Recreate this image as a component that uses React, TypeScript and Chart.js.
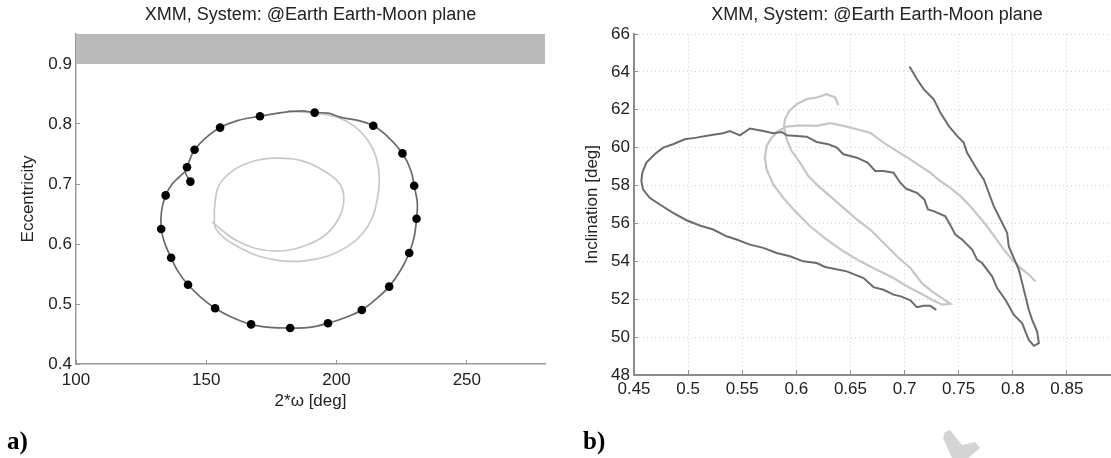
import { useEffect, useRef } from "react";
import { Chart, registerables } from "chart.js";

Chart.register(...registerables);

type Pt = [number, number];

const TITLE = "XMM, System: @Earth Earth-Moon plane";
const FONT = "'Liberation Sans', Arial, sans-serif";

// ---- (a) eccentricity vs 2*omega ----
const omegaTicks = [100, 150, 200, 250];
const eccTicks = [0.4, 0.5, 0.6, 0.7, 0.8, 0.9];
const omegaRange: Pt = [100, 280];
const eccRange: Pt = [0.4, 0.95];
const eccBand: Pt = [0.9, 0.95];

// propagated track (dark)
const outerTrack: Pt[] = [
  [143.9, 0.704], [142.0, 0.719], [142.6, 0.728], [143.9, 0.743], [145.5, 0.757],
  [149.6, 0.776], [155.3, 0.794], [162.3, 0.806], [170.6, 0.813], [178.9, 0.819],
  [186.5, 0.822], [191.6, 0.819], [196.7, 0.818], [201.8, 0.811], [208.1, 0.806],
  [214.1, 0.797], [219.6, 0.779], [225.3, 0.751], [228.5, 0.723], [229.8, 0.697],
  [231.0, 0.668], [230.7, 0.642], [229.8, 0.612], [227.9, 0.585], [224.7, 0.557],
  [220.2, 0.529], [215.1, 0.508], [209.7, 0.490], [203.7, 0.478], [196.7, 0.468],
  [189.7, 0.461], [182.2, 0.460], [174.4, 0.461], [167.2, 0.466], [159.8, 0.478],
  [153.4, 0.493], [147.7, 0.512], [143.0, 0.532], [139.2, 0.554], [136.5, 0.577],
  [134.1, 0.601], [132.7, 0.625], [132.8, 0.654], [134.4, 0.681], [136.9, 0.700],
  [139.7, 0.712], [142.0, 0.721],
];

// second track (light), spiralling inwards
const innerTrack: Pt[] = [
  [181.4, 0.822], [191.6, 0.818], [200.5, 0.811], [206.9, 0.796], [212.0, 0.773],
  [215.1, 0.746], [216.4, 0.712], [215.8, 0.679], [213.9, 0.646], [210.1, 0.618],
  [204.3, 0.596], [196.7, 0.580], [187.8, 0.572], [178.9, 0.572], [170.0, 0.580],
  [162.3, 0.595], [156.6, 0.611], [153.4, 0.628], [153.1, 0.646], [153.2, 0.662],
  [154.7, 0.696], [159.8, 0.721], [167.4, 0.737], [176.3, 0.743], [186.5, 0.739],
  [194.8, 0.723], [201.1, 0.701], [202.8, 0.673], [200.5, 0.640], [194.8, 0.612],
  [186.5, 0.595], [177.6, 0.588], [168.7, 0.593], [161.1, 0.607], [156.0, 0.623],
  [152.2, 0.637],
];

// sampled epochs on the dark track
const epochOmega = [191.6, 170.6, 155.3, 145.5, 142.6, 143.9, 134.4, 132.7, 136.5, 143.0, 153.4,
  167.2, 182.2, 196.7, 209.7, 220.2, 227.9, 230.7, 229.8, 225.3, 214.1];
const epochEcc = [0.819, 0.813, 0.794, 0.757, 0.728, 0.704, 0.681, 0.625, 0.577, 0.532, 0.493,
  0.466, 0.460, 0.468, 0.490, 0.529, 0.585, 0.642, 0.697, 0.751, 0.797];

// ---- (b) inclination vs eccentricity ----
const eTicksB = [0.45, 0.5, 0.55, 0.6, 0.65, 0.7, 0.75, 0.8, 0.85];
const incTicks = [48, 50, 52, 54, 56, 58, 60, 62, 64, 66];
const eRangeB: Pt = [0.45, 0.9];
const incRange: Pt = [48, 66];

const darkIncTrack: Pt[] = [
  [0.7046, 64.29], [0.7114, 63.62], [0.7176, 63.09], [0.7269, 62.56], [0.7330, 61.85],
  [0.7408, 61.15], [0.7485, 60.62], [0.7546, 60.27], [0.7577, 59.74], [0.7670, 58.85],
  [0.7732, 58.32], [0.7778, 57.62], [0.7824, 56.91], [0.7886, 56.21], [0.7948, 55.50],
  [0.7963, 54.79], [0.8056, 53.56], [0.8087, 52.85], [0.8148, 51.44], [0.8179, 50.91],
  [0.8225, 50.29], [0.8241, 49.68], [0.8195, 49.54], [0.8148, 49.85], [0.8117, 50.29],
  [0.8087, 50.73], [0.8009, 51.18], [0.7932, 51.97], [0.7855, 52.59], [0.7809, 53.21],
  [0.7716, 53.91], [0.7670, 54.09], [0.7624, 54.62], [0.7531, 55.15], [0.7469, 55.41],
  [0.7429, 55.85], [0.7377, 56.38], [0.7269, 56.65], [0.7216, 56.74], [0.7182, 57.27],
  [0.7114, 57.62], [0.7016, 57.83], [0.6960, 58.15], [0.6898, 58.68], [0.6806, 58.77],
  [0.6729, 58.77], [0.6658, 59.21], [0.6559, 59.47], [0.6435, 59.65], [0.6374, 60.00],
  [0.6296, 60.18], [0.6188, 60.30], [0.6096, 60.58], [0.6003, 60.62], [0.5911, 60.65],
  [0.5864, 60.83], [0.5787, 60.76], [0.5695, 60.88], [0.5571, 61.01], [0.5479, 60.65],
  [0.5386, 60.88], [0.5324, 60.76], [0.5201, 60.65], [0.5077, 60.53], [0.4969, 60.44],
  [0.4861, 60.18], [0.4769, 60.00], [0.4691, 59.65], [0.4614, 59.21], [0.4577, 58.68],
  [0.4568, 58.24], [0.4583, 57.80], [0.4645, 57.35], [0.4738, 57.00], [0.4861, 56.56],
  [0.4985, 56.17], [0.5108, 55.89], [0.5232, 55.68], [0.5355, 55.32], [0.5448, 55.15],
  [0.5571, 54.88], [0.5695, 54.71], [0.5818, 54.44], [0.5941, 54.27], [0.6065, 54.00],
  [0.6188, 53.91], [0.6266, 53.70], [0.6358, 53.59], [0.6466, 53.47], [0.6621, 53.12],
  [0.6713, 52.64], [0.6806, 52.50], [0.6898, 52.24], [0.6966, 52.15], [0.7053, 51.94],
  [0.7114, 51.58], [0.7176, 51.65], [0.7238, 51.65], [0.7293, 51.44],
];

const lightIncTrack: Pt[] = [
  [0.6389, 62.24], [0.6358, 62.65], [0.6281, 62.82], [0.6188, 62.65], [0.6096, 62.56],
  [0.6003, 62.29], [0.5935, 61.94], [0.5895, 61.50], [0.5886, 61.06], [0.5911, 60.44],
  [0.5957, 59.82], [0.6034, 59.21], [0.6111, 58.50], [0.6204, 57.97], [0.6312, 57.44],
  [0.6435, 56.82], [0.6559, 56.21], [0.6682, 55.68], [0.6806, 54.97], [0.6929, 54.27],
  [0.7053, 53.65], [0.7161, 52.85], [0.7253, 52.41], [0.7346, 52.06], [0.7423, 51.76],
  [0.7346, 51.71], [0.7253, 51.97], [0.7145, 52.32], [0.7022, 52.68], [0.6898, 53.12],
  [0.6744, 53.56], [0.6590, 54.00], [0.6435, 54.53], [0.6281, 55.15], [0.6127, 55.85],
  [0.5988, 56.65], [0.5880, 57.35], [0.5787, 58.06], [0.5725, 58.85], [0.5710, 59.47],
  [0.5725, 60.09], [0.5772, 60.53], [0.5833, 60.88], [0.5911, 61.11], [0.6034, 61.18],
  [0.6188, 61.15], [0.6312, 61.29], [0.6435, 61.15], [0.6559, 60.97], [0.6682, 60.79],
  [0.6806, 60.27], [0.6929, 59.82], [0.7053, 59.38], [0.7145, 59.03], [0.7238, 58.68],
  [0.7330, 58.24], [0.7423, 57.88], [0.7516, 57.44], [0.7608, 56.91], [0.7685, 56.38],
  [0.7762, 55.85], [0.7840, 55.24], [0.7917, 54.62], [0.7994, 54.09], [0.8071, 53.65],
  [0.8148, 53.30], [0.8210, 52.94],
];

const toXY = (pts: Pt[]) => pts.map(([x, y]) => ({ x, y }));
const zipXY = (xs: number[], ys: number[]) => xs.map((x, i) => ({ x, y: ys[i] }));
const fixTicks = (vals: number[]) => (scale: any) => {
  scale.ticks = vals.map((value) => ({ value }));
};

const tickFont = { family: FONT, size: 17 };
const axisColor = "#999999";
const textColor = "#222222";

function makeEccChart(canvas: HTMLCanvasElement) {
  return new Chart(canvas, {
    type: "scatter",
    data: {
      datasets: [
        {
          data: zipXY(epochOmega, epochEcc),
          pointRadius: 4.3,
          pointBackgroundColor: "#000",
          pointBorderWidth: 0,
          showLine: false,
        },
        {
          data: toXY(outerTrack),
          showLine: true,
          borderColor: "#6a6a6a",
          borderWidth: 1.7,
          pointRadius: 0,
          tension: 0.35,
        },
        {
          data: toXY(innerTrack),
          showLine: true,
          borderColor: "#c8c8c8",
          borderWidth: 1.7,
          pointRadius: 0,
          tension: 0.35,
        },
        {
          type: "line",
          data: [
            { x: omegaRange[0], y: eccBand[1] },
            { x: omegaRange[1], y: eccBand[1] },
          ],
          borderColor: "#b3b3b3",
          borderWidth: 1,
          pointRadius: 0,
          fill: { value: eccBand[0] },
          backgroundColor: "#bbbbbb",
        } as any,
      ],
    },
    options: {
      animation: false,
      responsive: false,
      events: [],
      layout: { padding: { left: 0, top: 34, right: 15, bottom: 0 } },
      plugins: { legend: { display: false }, tooltip: { enabled: false } },
      scales: {
        x: {
          type: "linear",
          min: omegaRange[0],
          max: omegaRange[1],
          afterBuildTicks: fixTicks(omegaTicks),
          afterFit: (s: any) => { s.height = 94; },
          grid: { drawOnChartArea: false, drawTicks: true, tickLength: -4, tickColor: axisColor },
          border: { color: axisColor, width: 1.5 },
          ticks: { padding: 10, color: textColor, font: tickFont, maxRotation: 0, callback: (v: any) => String(v) },
          title: {
            display: true,
            text: "2*ω [deg]",
            color: textColor,
            font: tickFont,
            padding: { top: 0, bottom: 46 },
          },
        },
        y: {
          type: "linear",
          min: eccRange[0],
          max: eccRange[1],
          afterBuildTicks: fixTicks(eccTicks),
          afterFit: (s: any) => { s.width = 76; },
          grid: { drawOnChartArea: false, drawTicks: true, tickLength: -4, tickColor: axisColor },
          border: { color: axisColor, width: 1.5 },
          ticks: { padding: 8, color: textColor, font: tickFont, callback: (v: any) => Number(v).toFixed(1) },
          title: {
            display: true,
            text: "Eccentricity",
            color: textColor,
            font: tickFont,
            padding: { top: 18, bottom: 0 },
          },
        },
      },
    },
  } as any);
}

function makeIncChart(canvas: HTMLCanvasElement) {
  return new Chart(canvas, {
    type: "scatter",
    data: {
      datasets: [
        {
          data: toXY(darkIncTrack),
          showLine: true,
          borderColor: "#6c6c6c",
          borderWidth: 2,
          pointRadius: 0,
          tension: 0,
        },
        {
          data: toXY(lightIncTrack),
          showLine: true,
          borderColor: "#c6c6c6",
          borderWidth: 2.2,
          pointRadius: 0,
          tension: 0,
        },
      ],
    },
    options: {
      animation: false,
      responsive: false,
      events: [],
      layout: { padding: { left: 0, top: 34, right: 14, bottom: 0 } },
      plugins: { legend: { display: false }, tooltip: { enabled: false } },
      scales: {
        x: {
          type: "linear",
          min: eRangeB[0],
          max: eRangeB[1],
          afterBuildTicks: fixTicks(eTicksB),
          afterFit: (s: any) => { s.height = 83; },
          grid: { color: "#d2d2d2", lineWidth: 1, drawTicks: true, tickLength: -5, tickColor: "#8c8c8c" },
          border: { color: "#8c8c8c", width: 2, dash: [1, 3] },
          ticks: { padding: 9, color: textColor, font: tickFont, maxRotation: 0, callback: (v: any) => String(Math.round(Number(v) * 100) / 100) },
        },
        y: {
          type: "linear",
          min: incRange[0],
          max: incRange[1],
          afterBuildTicks: fixTicks(incTicks),
          afterFit: (s: any) => { s.width = 74; },
          grid: { color: "#d2d2d2", lineWidth: 1, drawTicks: true, tickLength: -4, tickColor: "#8c8c8c" },
          border: { color: "#8c8c8c", width: 2, dash: [1, 3] },
          ticks: { padding: 8, color: textColor, font: tickFont, callback: (v: any) => String(v) },
          title: {
            display: true,
            text: "Inclination [deg]",
            color: textColor,
            font: tickFont,
            padding: { top: 22, bottom: 0 },
          },
        },
      },
    },
  } as any);
}

const titleStyle = (cx: number): React.CSSProperties => ({
  position: "absolute",
  left: cx,
  top: 14,
  transform: "translate(-50%, -50%)",
  whiteSpace: "nowrap",
  fontFamily: FONT,
  fontSize: 18,
  color: textColor,
});

const panelTag = (x: number): React.CSSProperties => ({
  position: "absolute",
  left: x,
  top: 440,
  transform: "translateY(-50%)",
  fontFamily: "'Liberation Serif', 'Times New Roman', serif",
  fontWeight: "bold",
  fontSize: 25,
  color: "#000",
  lineHeight: 1,
});

export default function App() {
  const refA = useRef<HTMLCanvasElement>(null);
  const refB = useRef<HTMLCanvasElement>(null);

  useEffect(() => {
    const a = makeEccChart(refA.current!);
    const b = makeIncChart(refB.current!);
    return () => {
      a.destroy();
      b.destroy();
    };
  }, []);

  return (
    <div
      style={{
        position: "absolute",
        left: 0,
        top: 0,
        width: 1111,
        height: 458,
        overflow: "hidden",
        background: "#fff",
      }}
    >
      <canvas ref={refA} width={560} height={458} style={{ position: "absolute", left: 0, top: 0, display: "block" }} />
      <canvas ref={refB} width={575} height={458} style={{ position: "absolute", left: 560, top: 0, display: "block" }} />
      <div style={titleStyle(310.5)}>{TITLE}</div>
      <div style={titleStyle(877)}>{TITLE}</div>
      <div style={panelTag(7)}>a)</div>
      <div style={panelTag(583)}>b)</div>
      <div
        style={{
          position: "absolute",
          left: 940,
          top: 428,
          width: 44,
          height: 30,
          background: "#d4d4d4",
          clipPath: "polygon(11% 13%, 23% 7%, 50% 57%, 80% 47%, 91% 67%, 64% 100%, 27% 100%, 7% 33%)",
          filter: "blur(0.5px)",
        }}
      />
    </div>
  );
}
